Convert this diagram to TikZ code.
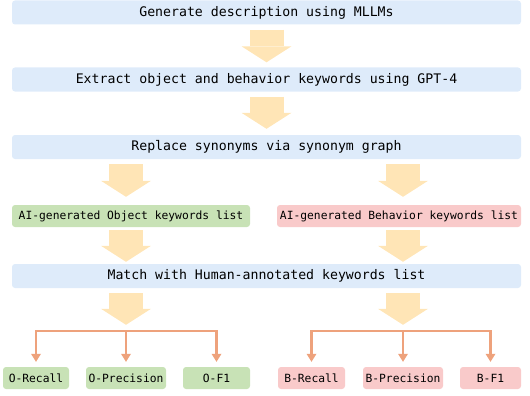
\documentclass[tikz,border=0pt]{standalone}
\usepackage{fontspec}
\setmonofont{DejaVu Sans Mono}
\usetikzlibrary{arrows.meta, calc}

\definecolor{barblue}{HTML}{DEEBFA}
\definecolor{objgreen}{HTML}{C8E2B6}
\definecolor{behred}{HTML}{F9CACA}
\definecolor{flowyellow}{HTML}{FFE5B6}
\definecolor{treeorange}{HTML}{EEA27C}

\begin{document}
\begin{tikzpicture}[x=1pt, y=-1pt,
		bar/.style={fill=barblue, rounded corners=3pt, minimum width=509pt, minimum height=24pt, inner sep=0pt, font=\ttfamily\fontsize{13.2}{14}\selectfont},
		objbox/.style={fill=objgreen, rounded corners=3pt, minimum height=22pt, inner sep=0pt, font=\ttfamily\fontsize{11.3}{12}\selectfont},
		behbox/.style={objbox, fill=behred},
		fat/.style={draw=flowyellow, line width=34pt, -{Triangle[width=50pt, length=16pt, line width=0pt]}},
		treearrow/.style={draw=treeorange, line width=2.6pt, -{Triangle[width=10pt, length=8pt, line width=0pt]}}]
			\useasboundingbox (0,0) rectangle (530,396);
			
			% Steps
			\node[bar] (gen) at (266.5,12.5) {Generate description using MLLMs};
			\node[bar] (ext) at (266.5,79.5) {Extract object and behavior keywords using GPT-4};
			\node[bar] (syn) at (266.5,147) {Replace synonyms via synonym graph};
			\node[bar] (match) at (266.5,276) {Match with Human-annotated keywords list};
			
			% Keyword lists
			\node[objbox, minimum width=238pt] (olist) at (131,216) {AI-generated Object keywords list};
			\node[behbox, minimum width=244pt] (blist) at (399,216) {AI-generated Behavior keywords list};
			
			% Metrics
			\node[objbox, minimum width=66pt] (orec) at (36,378) {O-Recall};
			\node[objbox, minimum width=80pt] (oprec) at (126,378) {O-Precision};
			\node[objbox, minimum width=67pt] (of1) at (216.5,378) {O-F1};
			\node[behbox, minimum width=67pt] (brec) at (311.5,378) {B-Recall};
			\node[behbox, minimum width=80pt] (bprec) at (403,378) {B-Precision};
			\node[behbox, minimum width=61pt] (bf1) at (490.5,378) {B-F1};
			
			\coordinate (ohub) at ($(oprec.north)+(0,-36)$);
			\coordinate (bhub) at ($(bprec.north)+(0,-36)$);
			
			% Flow arrows
			\draw[fat] ([yshift=-5pt]gen.south) -- ([yshift=5pt]ext.north);
			\draw[fat] ([yshift=-5pt]ext.south) -- ([yshift=6pt]syn.north);
			\draw[fat] ([yshift=-5pt]syn.south -| ohub) -- ([yshift=8pt]olist.north -| ohub);
			\draw[fat] ([yshift=-5pt]syn.south -| bhub) -- ([yshift=8pt]blist.north -| bhub);
			\draw[fat] ([yshift=-3pt]olist.south -| ohub) -- ([yshift=2pt]match.north -| ohub);
			\draw[fat] ([yshift=-3pt]blist.south -| bhub) -- ([yshift=2pt]match.north -| bhub);
			\draw[fat] ([yshift=-5pt]match.south -| ohub) -- ([yshift=6pt]ohub);
			\draw[fat] ([yshift=-5pt]match.south -| bhub) -- ([yshift=6pt]bhub);
			
			% Branches
			\draw[treearrow] (ohub) -| ([yshift=5pt]orec.north);
			\draw[treearrow] (ohub) -| ([yshift=5pt]of1.north);
			\draw[treearrow] (ohub) -- ([yshift=5pt]oprec.north);
			\draw[treearrow] (bhub) -| ([yshift=5pt]brec.north);
			\draw[treearrow] (bhub) -| ([yshift=5pt]bf1.north);
			\draw[treearrow] (bhub) -- ([yshift=5pt]bprec.north);
			
\end{tikzpicture}
\end{document}
